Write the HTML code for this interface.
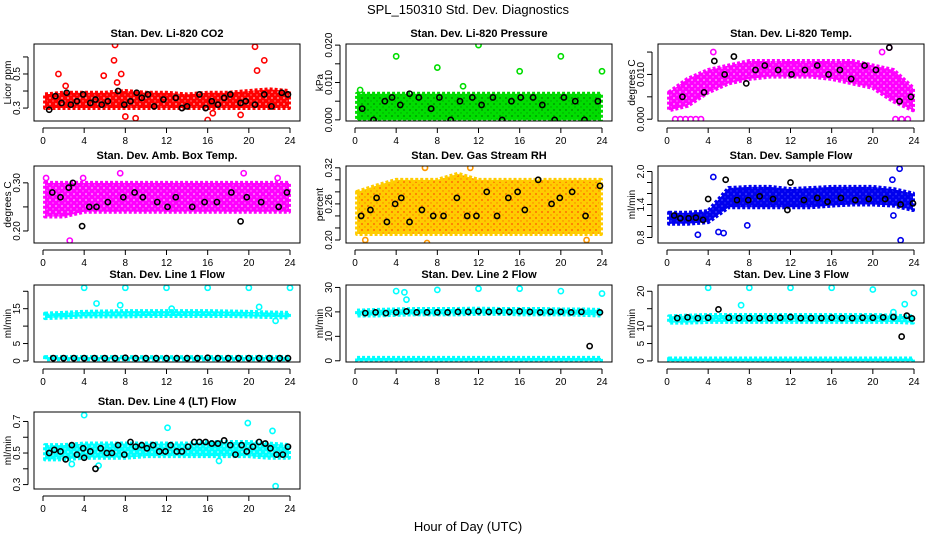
<!DOCTYPE html>
<html><head><meta charset="utf-8">
<style>
body{margin:0;background:#fff;}
svg{display:block;font-family:"Liberation Sans",sans-serif;}
</style></head>
<body>
<svg id="c" width="936" height="540" viewBox="0 0 936 540">
<rect width="936" height="540" fill="#fff"/>
<text x="468" y="14" text-anchor="middle" font-size="13">SPL_150310  Std. Dev. Diagnostics</text>
<text x="468" y="531" text-anchor="middle" font-size="13">Hour of Day (UTC)</text>
</svg>
<script>
// ---- data ----
const hourTicks = [0,4,8,12,16,20,24];
const bandHours = [0,2,4,6,8,10,12,14,16,18,20,22,24];

const co2Lo = [0.30,0.30,0.30,0.30,0.30,0.30,0.30,0.30,0.30,0.30,0.30,0.30,0.30];
const co2Hi = [0.38,0.39,0.39,0.39,0.40,0.39,0.39,0.38,0.39,0.39,0.40,0.41,0.40];
const co2OutX = [1.5,5.9,6.9,7.0,7.6,7.2,20.6,21.5,20.8,9.0,8.0,16.0,19.2,2.2,16.5];
const co2OutY = [0.50,0.49,0.58,0.67,0.50,0.45,0.66,0.58,0.52,0.24,0.25,0.23,0.26,0.43,0.27];
const co2BlkX = [0.6,1.2,1.8,2.3,2.7,3.3,3.9,4.6,5.1,5.7,6.3,7.3,7.9,8.5,9.1,9.6,10.2,10.8,11.7,12.9,13.5,14.0,15.2,15.8,16.4,17.0,17.6,18.2,19.2,19.7,20.6,21.5,22.2,23.2,23.8];
const co2BlkY = [0.29,0.37,0.33,0.39,0.32,0.34,0.38,0.33,0.35,0.32,0.34,0.40,0.32,0.34,0.39,0.36,0.38,0.31,0.35,0.36,0.30,0.31,0.38,0.30,0.34,0.32,0.36,0.38,0.33,0.34,0.32,0.38,0.31,0.39,0.38];

const presLo = [0,0,0,0,0,0,0,0,0,0,0,0,0];
const presHi = [0.007,0.007,0.007,0.007,0.007,0.007,0.007,0.007,0.007,0.007,0.007,0.007,0.007];
const presOutX = [0.5,4.0,8.0,12.0,16.0,20.0,24.0,10.5];
const presOutY = [0.008,0.017,0.014,0.020,0.013,0.017,0.013,0.009];
const presBlkX = [0.7,1.8,2.9,3.6,4.4,5.3,6.2,7.4,8.2,9.3,10.2,11.4,12.3,13.4,14.3,15.2,16.1,17.3,18.2,19.4,20.3,21.4,22.3,23.6];
const presBlkY = [0.003,0.000,0.005,0.006,0.004,0.007,0.006,0.003,0.006,0.000,0.005,0.006,0.004,0.006,0.000,0.005,0.006,0.006,0.004,0.000,0.006,0.005,0.000,0.005];

const tempLo = [0.002,0.003,0.006,0.008,0.009,0.0095,0.0095,0.0095,0.009,0.008,0.007,0.004,0.002];
const tempHi = [0.006,0.009,0.011,0.012,0.013,0.013,0.013,0.013,0.013,0.013,0.012,0.011,0.007];
const tempOutX = [0.8,1.3,1.8,2.3,2.8,3.3,22.2,22.8,23.4,4.5,20.9,21.6];
const tempOutY = [0,0,0,0,0,0,0,0,0,0.015,0.015,0.016];
const tempBlkX = [1.5,3.6,4.6,5.6,6.5,7.7,8.6,9.5,10.8,12.1,13.4,14.6,15.7,16.8,17.9,19.2,20.3,21.6,22.6,23.7];
const tempBlkY = [0.005,0.006,0.013,0.010,0.014,0.008,0.011,0.012,0.011,0.010,0.011,0.012,0.010,0.011,0.009,0.012,0.011,0.016,0.004,0.005];

const ambLo = [0.23,0.23,0.24,0.24,0.24,0.24,0.24,0.24,0.24,0.24,0.24,0.24,0.24];
const ambHi = [0.30,0.30,0.30,0.30,0.30,0.30,0.30,0.30,0.30,0.30,0.30,0.30,0.30];
const ambOutX = [2.6,7.5,19.5,0.3,3.9,22.8];
const ambOutY = [0.18,0.32,0.32,0.31,0.31,0.31];
const ambBlkX = [0.9,1.7,2.5,2.9,3.8,4.5,5.2,6.3,7.8,8.9,9.7,11.1,12.1,12.9,14.5,15.7,16.9,18.3,19.2,19.8,21.2,22.9,23.7];
const ambBlkY = [0.28,0.27,0.29,0.30,0.21,0.25,0.25,0.26,0.27,0.28,0.27,0.26,0.25,0.27,0.25,0.26,0.26,0.28,0.22,0.27,0.26,0.25,0.28];

const rhLo = [0.21,0.21,0.21,0.21,0.21,0.21,0.21,0.21,0.21,0.21,0.21,0.21,0.21];
const rhHi = [0.28,0.29,0.30,0.30,0.30,0.31,0.30,0.30,0.30,0.30,0.30,0.30,0.30];
const rhOutX = [6.8,11.2,7.0,22.5,1.0];
const rhOutY = [0.32,0.32,0.195,0.20,0.20];
const rhBlkX = [0.6,1.5,2.1,3.1,3.9,4.5,5.3,6.5,7.6,8.6,9.9,10.9,11.8,12.8,13.8,14.9,15.8,16.5,17.8,19.1,19.9,21.1,22.4,23.8];
const rhBlkY = [0.24,0.25,0.27,0.23,0.26,0.27,0.23,0.25,0.24,0.24,0.27,0.24,0.24,0.28,0.24,0.27,0.28,0.25,0.30,0.26,0.27,0.28,0.24,0.29];

const flowLo = [1.05,1.05,1.08,1.35,1.35,1.35,1.35,1.35,1.38,1.40,1.40,1.38,1.30];
const flowHi = [1.25,1.25,1.28,1.70,1.72,1.72,1.68,1.70,1.72,1.72,1.72,1.68,1.60];
const flowOutX = [3.0,5.0,5.5,7.8,22.6,22.7,22.0,21.9,4.5];
const flowOutY = [0.85,0.90,0.88,1.02,2.05,0.75,1.20,1.85,1.90];
const flowBlkX = [0.7,1.3,2.1,2.8,3.5,4.0,5.7,6.8,7.9,9.0,10.3,11.7,12.0,13.3,14.6,15.6,16.9,18.3,19.6,21.2,22.7,23.9];
const flowBlkY = [1.20,1.15,1.15,1.16,1.12,1.50,1.85,1.48,1.48,1.55,1.50,1.30,1.80,1.48,1.52,1.45,1.52,1.48,1.50,1.50,1.40,1.42];

const l1Lo = [12.3,12.5,12.8,12.8,12.8,12.9,12.9,12.9,12.9,12.9,12.8,12.6,12.5];
const l1Hi = [13.6,13.8,14.1,14.2,14.3,14.3,14.3,14.3,14.3,14.2,14.1,13.9,13.8];
const l1Lo2 = [0.5,0.5,0.5,0.5,0.5,0.5,0.5,0.5,0.5,0.5,0.5,0.5,0.5];
const l1Hi2 = [1.1,1.1,1.1,1.1,1.1,1.1,1.1,1.1,1.1,1.1,1.1,1.1,1.1];
const l1OutX = [4,8,12,16,20,24,5.2,7.5,12.5,21,22.6];
const l1OutY = [21,21,21,21,21,21,16.5,16,15,15.5,11.5];
const l1BlkX = [1,2,3,4,5,6,7,8,9,10,11,12,13,14,15,16,17,18,19,20,21,22,23,23.8];
const l1BlkY = [0.8,0.8,0.8,0.8,0.8,0.8,0.8,0.9,0.8,0.8,0.8,0.8,0.8,0.8,0.8,0.9,0.8,0.8,0.8,0.8,0.8,0.8,0.8,0.8];

const l2Lo = [18.5,18.5,18.8,19,19,19,19.2,19.2,19,19,19,18.8,18.5];
const l2Hi = [20.5,20.8,21,21.2,21.2,21.2,21.3,21.2,21.2,21.2,21,21,20.8];
const l2Lo2 = [0,0,0,0,0,0,0,0,0,0,0,0,0];
const l2Hi2 = [1.2,1.2,1.2,1.2,1.2,1.2,1.2,1.2,1.2,1.2,1.2,1.2,1.2];
const l2OutX = [4,8,12,16,20,24,4.8,5.0];
const l2OutY = [28.5,29,29.5,29.5,28.5,27.5,28,25];
const l2BlkX = [1,2,3,4,5,6,7,8,9,10,11,12,13,14,15,16,17,18,19,20,21,22,22.8,23.8];
const l2BlkY = [19.5,19.8,19.5,19.8,20.2,19.8,19.8,19.8,19.8,20,20,20.2,20,20.2,20,20.2,20,19.8,20,20,19.8,20,6,19.8];

const l3Lo = [11,11,11.2,11.2,11.2,11.2,11.2,11.2,11.2,11.2,11.2,11.2,11];
const l3Hi = [12.8,13,13.2,13.2,13.2,13.2,13.2,13.2,13.2,13.2,13.2,13,12.8];
const l3Lo2 = [0,0,0,0,0,0,0,0,0,0,0,0,0];
const l3Hi2 = [0.7,0.7,0.7,0.7,0.7,0.7,0.7,0.7,0.7,0.7,0.7,0.7,0.7];
const l3OutX = [4,8,12,16,20,24,7.2,23.1,22.0];
const l3OutY = [21,21,21,21,20.5,19.5,16,16.3,14];
const l3BlkX = [1,2,3,4,5,6,7,8,9,10,11,12,13,14,15,16,17,18,19,20,21,22,22.8,23.3,23.8];
const l3BlkY = [12.3,12.5,12.3,12.4,14.8,12.4,12.3,12.3,12.3,12.3,12.4,12.6,12.3,12.3,12.3,12.4,12.3,12.3,12.4,12.4,12.5,12.6,7,13,12.2];

const l4Lo = [0.46,0.46,0.47,0.47,0.47,0.48,0.48,0.48,0.48,0.48,0.48,0.47,0.47];
const l4Hi = [0.55,0.55,0.56,0.56,0.56,0.56,0.56,0.56,0.57,0.57,0.57,0.56,0.55];
const l4OutX = [4.0,12.1,19.9,22.3,22.6,5.4,2.8,17.1];
const l4OutY = [0.74,0.66,0.69,0.64,0.29,0.42,0.43,0.45];
const l4BlkX = [0.6,1.1,1.7,2.2,2.8,3.3,3.9,4.0,4.6,5.1,5.6,6.2,6.7,7.3,7.9,8.5,9.0,9.6,10.1,10.7,11.3,11.9,12.4,13.0,13.5,14.1,14.7,15.2,15.8,16.4,17.0,17.6,18.2,18.7,19.3,19.8,20.4,21.0,21.6,22.1,22.7,23.3,23.8];
const l4BlkY = [0.50,0.52,0.51,0.46,0.55,0.49,0.53,0.47,0.51,0.40,0.53,0.50,0.50,0.55,0.49,0.57,0.54,0.55,0.53,0.55,0.51,0.51,0.55,0.51,0.51,0.54,0.57,0.57,0.57,0.56,0.56,0.58,0.55,0.49,0.55,0.51,0.54,0.57,0.56,0.53,0.49,0.49,0.54];

// ---- layout ----
const panels = [
 {col:0,row:0,title:"Stan. Dev. Li-820 CO2",ylab:"Licor ppm",ymin:0.224,ymax:0.676,ticks:[0.3,0.4,0.5,0.6],labels:["0.3","","0.5",""],color:"#ff0000",dot:"#ffffff",lo:co2Lo,hi:co2Hi,ox:co2OutX,oy:co2OutY,bx:co2BlkX,by:co2BlkY},
 {col:1,row:0,title:"Stan. Dev. Li-820 Pressure",ylab:"kPa",ymin:-0.0003,ymax:0.0203,ticks:[0,0.005,0.01,0.015,0.02],labels:["0.000","","0.010","","0.020"],color:"#00dd00",dot:"#006600",lo:presLo,hi:presHi,ox:presOutX,oy:presOutY,bx:presBlkX,by:presBlkY},
 {col:2,row:0,title:"Stan. Dev. Li-820 Temp.",ylab:"degrees C",ymin:-0.0004,ymax:0.0168,ticks:[0,0.005,0.01,0.015],labels:["0.000","","0.010",""],color:"#ff00ff",dot:"#ffffff",lo:tempLo,hi:tempHi,ox:tempOutX,oy:tempOutY,bx:tempBlkX,by:tempBlkY},
 {col:0,row:1,title:"Stan. Dev. Amb. Box Temp.",ylab:"degrees C",ymin:0.175,ymax:0.335,ticks:[0.2,0.25,0.3],labels:["0.20","","0.30"],color:"#ff00ff",dot:"#ffffff",lo:ambLo,hi:ambHi,ox:ambOutX,oy:ambOutY,bx:ambBlkX,by:ambBlkY},
 {col:1,row:1,title:"Stan. Dev. Gas Stream RH",ylab:"percent",ymin:0.195,ymax:0.323,ticks:[0.2,0.22,0.24,0.26,0.28,0.3,0.32],labels:["0.20","","","0.26","","","0.32"],color:"#ffcc00",dot:"#ff2200",lo:rhLo,hi:rhHi,ox:rhOutX,oy:rhOutY,bx:rhBlkX,by:rhBlkY,outColor:"#ff9900"},
 {col:2,row:1,title:"Stan. Dev. Sample Flow",ylab:"ml/min",ymin:0.7,ymax:2.1,ticks:[0.8,1.0,1.2,1.4,1.6,1.8,2.0],labels:["0.8","","","1.4","","","2.0"],color:"#0000ee",dot:"#6666ff",lo:flowLo,hi:flowHi,ox:flowOutX,oy:flowOutY,bx:flowBlkX,by:flowBlkY},
 {col:0,row:2,title:"Stan. Dev. Line 1 Flow",ylab:"ml/min",ymin:-0.3,ymax:21.8,ticks:[0,5,10,15,20],labels:["0","5","","15",""],color:"#00ffff",dot:"#ffffff",lo:l1Lo,hi:l1Hi,lo2:l1Lo2,hi2:l1Hi2,ox:l1OutX,oy:l1OutY,bx:l1BlkX,by:l1BlkY},
 {col:1,row:2,title:"Stan. Dev. Line 2 Flow",ylab:"ml/min",ymin:-0.5,ymax:31,ticks:[0,10,20,30],labels:["0","10","20","30"],color:"#00ffff",dot:"#ffffff",lo:l2Lo,hi:l2Hi,lo2:l2Lo2,hi2:l2Hi2,ox:l2OutX,oy:l2OutY,bx:l2BlkX,by:l2BlkY},
 {col:2,row:2,title:"Stan. Dev. Line 3 Flow",ylab:"ml/min",ymin:-0.3,ymax:21.8,ticks:[0,5,10,15,20],labels:["0","5","10","","20"],color:"#00ffff",dot:"#ffffff",lo:l3Lo,hi:l3Hi,lo2:l3Lo2,hi2:l3Hi2,ox:l3OutX,oy:l3OutY,bx:l3BlkX,by:l3BlkY},
 {col:0,row:3,title:"Stan. Dev. Line 4 (LT) Flow",ylab:"ml/min",ymin:0.272,ymax:0.76,ticks:[0.3,0.4,0.5,0.6,0.7],labels:["0.3","","0.5","","0.7"],color:"#00ffff",dot:"#ffffff",lo:l4Lo,hi:l4Hi,ox:l4OutX,oy:l4OutY,bx:l4BlkX,by:l4BlkY}
];
const colX=[0,312,624], rowY=[44,166,285,412], boxH=77;
const NS="http://www.w3.org/2000/svg";
const svg=document.getElementById('c');
function mk(tag,attrs,parent){const e=document.createElementNS(NS,tag);for(const k in attrs)e.setAttribute(k,attrs[k]);(parent||svg).appendChild(e);return e;}
const defs=mk('defs',{});

panels.forEach((p,i)=>{
  const ox=colX[p.col], top=rowY[p.row], bot=top+boxH;
  const L=ox+34, R=ox+300;
  const xs=h=>ox+43+h*(247/24);
  const ys=v=>bot-(v-p.ymin)/(p.ymax-p.ymin)*boxH;
  const pat=mk('pattern',{id:'pt'+i,width:6,height:6,patternUnits:'userSpaceOnUse'},defs);
  mk('rect',{width:6,height:6,fill:p.color},pat);
  mk('circle',{cx:2,cy:2,r:0.9,fill:p.dot,'fill-opacity':0.7},pat);
  mk('circle',{cx:5,cy:5,r:0.7,fill:p.dot,'fill-opacity':0.5},pat);
  const g=mk('g',{});
  
  
  const clip=mk('clipPath',{id:'cl'+i},g);
  mk('rect',{x:L,y:top,width:R-L,height:boxH},clip);
  const t=mk('text',{x:(L+R)/2,y:top-7,'text-anchor':'middle','font-size':11,'font-weight':'bold'},g);
  t.textContent=p.title;
  
  
  const pg=mk('g',{'clip-path':'url(#cl'+i+')'},g);
  const bands=[[p.lo,p.hi]]; if(p.lo2) bands.push([p.lo2,p.hi2]);
  bands.forEach(b=>{
    let d='';
    bandHours.forEach((h,j)=>{d+=(j?'L':'M')+xs(Math.max(0.2,Math.min(23.9,h)))+','+ys(b[1][j]);});
    for(let j=bandHours.length-1;j>=0;j--) d+='L'+xs(Math.max(0.2,Math.min(23.9,bandHours[j])))+','+ys(b[0][j]);
    const band=mk('path',{d:d+'Z',fill:'url(#pt'+i+')',stroke:p.color,'stroke-width':4,'stroke-linejoin':'round','stroke-dasharray':'3 2'},pg);
    
    
  });
  p.ox.forEach((h,j)=>{
    const c=mk('circle',{cx:xs(h),cy:ys(p.oy[j]),r:2.6,fill:'none',stroke:p.outColor||p.color,'stroke-width':1.6},pg);
    
    
  });
  p.bx.forEach((h,j)=>{
    const c=mk('circle',{cx:xs(h),cy:ys(p.by[j]),r:2.6,fill:'none',stroke:'#000','stroke-width':1.6},pg);
    
    
  });
  const box=mk('rect',{x:L,y:top,width:R-L,height:boxH,fill:'none',stroke:'#000','stroke-width':1},g);
  
  
  mk('line',{x1:xs(0),x2:xs(24),y1:bot+7,y2:bot+7,stroke:'#000'},g);
  hourTicks.forEach(h=>{
    mk('line',{x1:xs(h),x2:xs(h),y1:bot+7,y2:bot+12,stroke:'#000'},g);
    const tl=mk('text',{x:xs(h),y:bot+23,'text-anchor':'middle','font-size':10},g);
    tl.textContent=h;
    
    
  });
  mk('line',{x1:L-6,x2:L-6,y1:ys(p.ticks[0]),y2:ys(p.ticks[p.ticks.length-1]),stroke:'#000'},g);
  p.ticks.forEach((v,j)=>{
    mk('line',{x1:L-11,x2:L-6,y1:ys(v),y2:ys(v),stroke:'#000'},g);
    if(p.labels[j]){
      const yl=mk('text',{x:0,y:0,'text-anchor':'middle','font-size':10,transform:`translate(${L-14},${ys(v)}) rotate(-90)`},g);
      yl.textContent=p.labels[j];
      
      
    }
  });
  const yt=mk('text',{x:0,y:0,'text-anchor':'middle','font-size':10,transform:`translate(${ox+11},${(top+bot)/2}) rotate(-90)`},g);
  yt.textContent=p.ylab;
  
  
});
</script>
</body></html>
